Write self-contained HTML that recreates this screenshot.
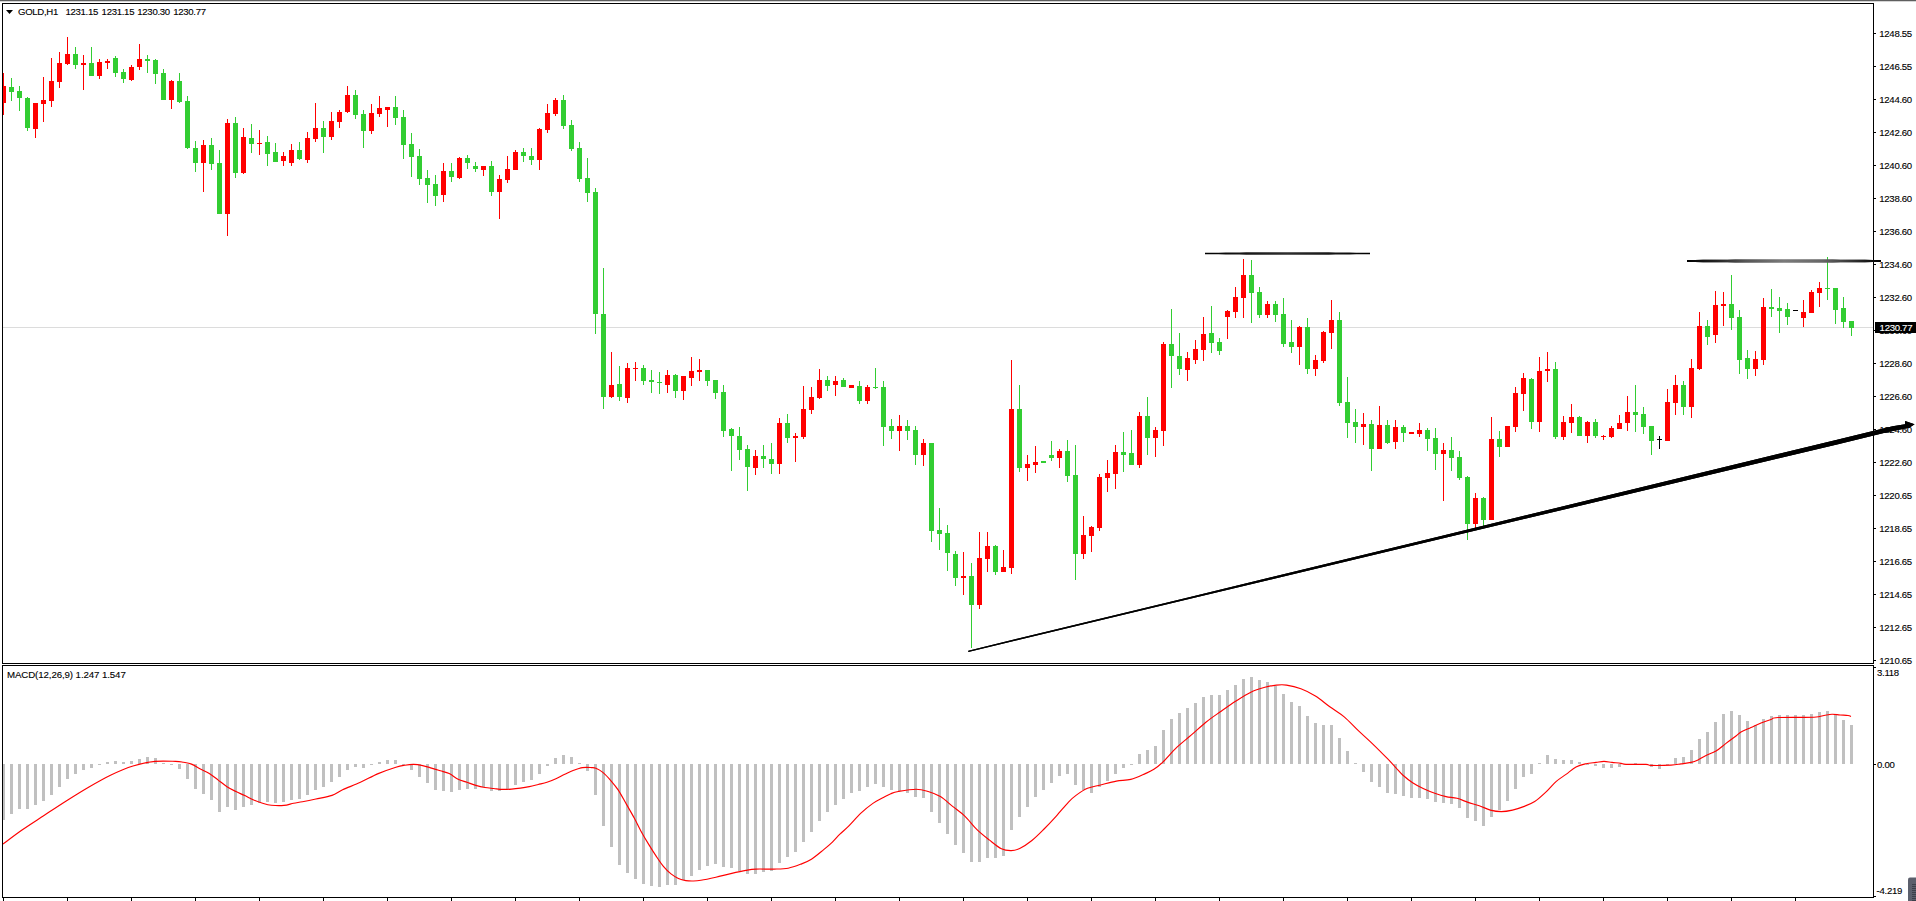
<!DOCTYPE html><html><head><meta charset="utf-8"><style>html,body{margin:0;padding:0;background:#fff;}body{width:1916px;height:901px;overflow:hidden;position:relative;}</style></head><body><svg width="1916" height="901" viewBox="0 0 1916 901" style="position:absolute;left:0;top:0">
<defs><clipPath id="cm"><rect x="3" y="4" width="1870" height="659"/></clipPath><clipPath id="cs"><rect x="3" y="666" width="1870" height="231"/></clipPath></defs>
<rect x="0" y="0" width="1916" height="1" fill="#5e5e5e"/>
<rect x="0" y="1" width="1916" height="1" fill="#d4d4d4"/>
<rect x="3" y="327" width="1870" height="1" fill="#DCDCDC"/>
<g clip-path="url(#cm)" shape-rendering="crispEdges">
<rect x="3" y="73" width="1" height="42" fill="#FF0000"/>
<rect x="1" y="86" width="5" height="17" fill="#FF0000"/>
<rect x="11" y="78" width="1" height="23" fill="#32CD32"/>
<rect x="9" y="87" width="5" height="5" fill="#32CD32"/>
<rect x="19" y="86" width="1" height="25" fill="#32CD32"/>
<rect x="17" y="91" width="5" height="7" fill="#32CD32"/>
<rect x="27" y="97" width="1" height="34" fill="#32CD32"/>
<rect x="25" y="98" width="5" height="30" fill="#32CD32"/>
<rect x="35" y="103" width="1" height="35" fill="#FF0000"/>
<rect x="33" y="103" width="5" height="26" fill="#FF0000"/>
<rect x="43" y="77" width="1" height="45" fill="#FF0000"/>
<rect x="41" y="100" width="5" height="4" fill="#FF0000"/>
<rect x="51" y="58" width="1" height="49" fill="#FF0000"/>
<rect x="49" y="81" width="5" height="20" fill="#FF0000"/>
<rect x="59" y="52" width="1" height="36" fill="#FF0000"/>
<rect x="57" y="63" width="5" height="19" fill="#FF0000"/>
<rect x="67" y="37" width="1" height="28" fill="#FF0000"/>
<rect x="65" y="54" width="5" height="10" fill="#FF0000"/>
<rect x="75" y="47" width="1" height="22" fill="#32CD32"/>
<rect x="73" y="54" width="5" height="11" fill="#32CD32"/>
<rect x="83" y="55" width="1" height="35" fill="#FF0000"/>
<rect x="81" y="63" width="5" height="2" fill="#FF0000"/>
<rect x="91" y="47" width="1" height="29" fill="#32CD32"/>
<rect x="89" y="63" width="5" height="13" fill="#32CD32"/>
<rect x="99" y="59" width="1" height="20" fill="#FF0000"/>
<rect x="97" y="62" width="5" height="14" fill="#FF0000"/>
<rect x="107" y="59" width="1" height="10" fill="#FF0000"/>
<rect x="105" y="61" width="5" height="2" fill="#FF0000"/>
<rect x="115" y="56" width="1" height="21" fill="#32CD32"/>
<rect x="113" y="58" width="5" height="15" fill="#32CD32"/>
<rect x="123" y="69" width="1" height="14" fill="#32CD32"/>
<rect x="121" y="72" width="5" height="7" fill="#32CD32"/>
<rect x="131" y="65" width="1" height="16" fill="#FF0000"/>
<rect x="129" y="67" width="5" height="13" fill="#FF0000"/>
<rect x="139" y="44" width="1" height="26" fill="#FF0000"/>
<rect x="137" y="59" width="5" height="8" fill="#FF0000"/>
<rect x="147" y="55" width="1" height="18" fill="#32CD32"/>
<rect x="145" y="59" width="5" height="2" fill="#32CD32"/>
<rect x="155" y="59" width="1" height="25" fill="#32CD32"/>
<rect x="153" y="60" width="5" height="14" fill="#32CD32"/>
<rect x="163" y="69" width="1" height="31" fill="#32CD32"/>
<rect x="161" y="73" width="5" height="27" fill="#32CD32"/>
<rect x="171" y="80" width="1" height="29" fill="#FF0000"/>
<rect x="169" y="81" width="5" height="19" fill="#FF0000"/>
<rect x="179" y="73" width="1" height="30" fill="#32CD32"/>
<rect x="177" y="81" width="5" height="21" fill="#32CD32"/>
<rect x="187" y="96" width="1" height="53" fill="#32CD32"/>
<rect x="185" y="101" width="5" height="47" fill="#32CD32"/>
<rect x="195" y="141" width="1" height="31" fill="#32CD32"/>
<rect x="193" y="148" width="5" height="15" fill="#32CD32"/>
<rect x="203" y="140" width="1" height="52" fill="#FF0000"/>
<rect x="201" y="145" width="5" height="18" fill="#FF0000"/>
<rect x="211" y="138" width="1" height="32" fill="#32CD32"/>
<rect x="209" y="145" width="5" height="19" fill="#32CD32"/>
<rect x="219" y="150" width="1" height="64" fill="#32CD32"/>
<rect x="217" y="163" width="5" height="51" fill="#32CD32"/>
<rect x="227" y="119" width="1" height="117" fill="#FF0000"/>
<rect x="225" y="123" width="5" height="91" fill="#FF0000"/>
<rect x="235" y="117" width="1" height="61" fill="#32CD32"/>
<rect x="233" y="123" width="5" height="50" fill="#32CD32"/>
<rect x="243" y="128" width="1" height="46" fill="#FF0000"/>
<rect x="241" y="137" width="5" height="36" fill="#FF0000"/>
<rect x="251" y="124" width="1" height="29" fill="#32CD32"/>
<rect x="249" y="138" width="5" height="6" fill="#32CD32"/>
<rect x="259" y="130" width="1" height="25" fill="#FF0000"/>
<rect x="257" y="143" width="5" height="1" fill="#FF0000"/>
<rect x="267" y="136" width="1" height="30" fill="#32CD32"/>
<rect x="265" y="142" width="5" height="12" fill="#32CD32"/>
<rect x="275" y="143" width="1" height="19" fill="#32CD32"/>
<rect x="273" y="152" width="5" height="10" fill="#32CD32"/>
<rect x="283" y="152" width="1" height="14" fill="#FF0000"/>
<rect x="281" y="156" width="5" height="5" fill="#FF0000"/>
<rect x="291" y="144" width="1" height="22" fill="#FF0000"/>
<rect x="289" y="150" width="5" height="13" fill="#FF0000"/>
<rect x="299" y="142" width="1" height="18" fill="#32CD32"/>
<rect x="297" y="150" width="5" height="9" fill="#32CD32"/>
<rect x="307" y="132" width="1" height="31" fill="#FF0000"/>
<rect x="305" y="138" width="5" height="22" fill="#FF0000"/>
<rect x="315" y="103" width="1" height="39" fill="#FF0000"/>
<rect x="313" y="128" width="5" height="11" fill="#FF0000"/>
<rect x="323" y="121" width="1" height="32" fill="#32CD32"/>
<rect x="321" y="128" width="5" height="9" fill="#32CD32"/>
<rect x="331" y="112" width="1" height="28" fill="#FF0000"/>
<rect x="329" y="121" width="5" height="16" fill="#FF0000"/>
<rect x="339" y="110" width="1" height="18" fill="#FF0000"/>
<rect x="337" y="112" width="5" height="10" fill="#FF0000"/>
<rect x="347" y="86" width="1" height="27" fill="#FF0000"/>
<rect x="345" y="95" width="5" height="17" fill="#FF0000"/>
<rect x="355" y="90" width="1" height="29" fill="#32CD32"/>
<rect x="353" y="95" width="5" height="20" fill="#32CD32"/>
<rect x="363" y="110" width="1" height="38" fill="#32CD32"/>
<rect x="361" y="114" width="5" height="17" fill="#32CD32"/>
<rect x="371" y="104" width="1" height="30" fill="#FF0000"/>
<rect x="369" y="113" width="5" height="18" fill="#FF0000"/>
<rect x="379" y="96" width="1" height="21" fill="#FF0000"/>
<rect x="377" y="108" width="5" height="6" fill="#FF0000"/>
<rect x="387" y="107" width="1" height="20" fill="#FF0000"/>
<rect x="385" y="107" width="5" height="3" fill="#FF0000"/>
<rect x="395" y="96" width="1" height="29" fill="#32CD32"/>
<rect x="393" y="107" width="5" height="11" fill="#32CD32"/>
<rect x="403" y="110" width="1" height="49" fill="#32CD32"/>
<rect x="401" y="117" width="5" height="28" fill="#32CD32"/>
<rect x="411" y="133" width="1" height="44" fill="#32CD32"/>
<rect x="409" y="144" width="5" height="13" fill="#32CD32"/>
<rect x="419" y="149" width="1" height="36" fill="#32CD32"/>
<rect x="417" y="156" width="5" height="23" fill="#32CD32"/>
<rect x="427" y="170" width="1" height="33" fill="#32CD32"/>
<rect x="425" y="178" width="5" height="7" fill="#32CD32"/>
<rect x="435" y="175" width="1" height="31" fill="#32CD32"/>
<rect x="433" y="184" width="5" height="12" fill="#32CD32"/>
<rect x="443" y="163" width="1" height="39" fill="#FF0000"/>
<rect x="441" y="171" width="5" height="24" fill="#FF0000"/>
<rect x="451" y="163" width="1" height="19" fill="#32CD32"/>
<rect x="449" y="171" width="5" height="6" fill="#32CD32"/>
<rect x="459" y="157" width="1" height="22" fill="#FF0000"/>
<rect x="457" y="158" width="5" height="20" fill="#FF0000"/>
<rect x="467" y="155" width="1" height="14" fill="#32CD32"/>
<rect x="465" y="158" width="5" height="5" fill="#32CD32"/>
<rect x="475" y="162" width="1" height="10" fill="#32CD32"/>
<rect x="473" y="166" width="5" height="3" fill="#32CD32"/>
<rect x="483" y="166" width="1" height="10" fill="#FF0000"/>
<rect x="481" y="166" width="5" height="4" fill="#FF0000"/>
<rect x="491" y="161" width="1" height="35" fill="#32CD32"/>
<rect x="489" y="166" width="5" height="26" fill="#32CD32"/>
<rect x="499" y="175" width="1" height="44" fill="#FF0000"/>
<rect x="497" y="179" width="5" height="13" fill="#FF0000"/>
<rect x="507" y="156" width="1" height="27" fill="#FF0000"/>
<rect x="505" y="169" width="5" height="11" fill="#FF0000"/>
<rect x="515" y="150" width="1" height="20" fill="#FF0000"/>
<rect x="513" y="152" width="5" height="18" fill="#FF0000"/>
<rect x="523" y="148" width="1" height="14" fill="#32CD32"/>
<rect x="521" y="152" width="5" height="4" fill="#32CD32"/>
<rect x="531" y="148" width="1" height="17" fill="#32CD32"/>
<rect x="529" y="156" width="5" height="4" fill="#32CD32"/>
<rect x="539" y="128" width="1" height="42" fill="#FF0000"/>
<rect x="537" y="129" width="5" height="31" fill="#FF0000"/>
<rect x="547" y="104" width="1" height="29" fill="#FF0000"/>
<rect x="545" y="113" width="5" height="17" fill="#FF0000"/>
<rect x="555" y="98" width="1" height="18" fill="#FF0000"/>
<rect x="553" y="100" width="5" height="14" fill="#FF0000"/>
<rect x="563" y="95" width="1" height="34" fill="#32CD32"/>
<rect x="561" y="100" width="5" height="26" fill="#32CD32"/>
<rect x="571" y="120" width="1" height="31" fill="#32CD32"/>
<rect x="569" y="125" width="5" height="24" fill="#32CD32"/>
<rect x="579" y="142" width="1" height="40" fill="#32CD32"/>
<rect x="577" y="148" width="5" height="31" fill="#32CD32"/>
<rect x="587" y="158" width="1" height="44" fill="#32CD32"/>
<rect x="585" y="178" width="5" height="15" fill="#32CD32"/>
<rect x="595" y="188" width="1" height="146" fill="#32CD32"/>
<rect x="593" y="192" width="5" height="122" fill="#32CD32"/>
<rect x="603" y="268" width="1" height="141" fill="#32CD32"/>
<rect x="601" y="314" width="5" height="83" fill="#32CD32"/>
<rect x="611" y="352" width="1" height="46" fill="#FF0000"/>
<rect x="609" y="385" width="5" height="12" fill="#FF0000"/>
<rect x="619" y="366" width="1" height="35" fill="#32CD32"/>
<rect x="617" y="384" width="5" height="13" fill="#32CD32"/>
<rect x="627" y="363" width="1" height="40" fill="#FF0000"/>
<rect x="625" y="368" width="5" height="30" fill="#FF0000"/>
<rect x="635" y="362" width="1" height="19" fill="#FF0000"/>
<rect x="633" y="368" width="5" height="1" fill="#FF0000"/>
<rect x="643" y="365" width="1" height="20" fill="#32CD32"/>
<rect x="641" y="368" width="5" height="13" fill="#32CD32"/>
<rect x="651" y="370" width="1" height="23" fill="#32CD32"/>
<rect x="649" y="380" width="5" height="2" fill="#32CD32"/>
<rect x="659" y="372" width="1" height="22" fill="#32CD32"/>
<rect x="657" y="382" width="5" height="1" fill="#32CD32"/>
<rect x="667" y="370" width="1" height="23" fill="#FF0000"/>
<rect x="665" y="375" width="5" height="10" fill="#FF0000"/>
<rect x="675" y="374" width="1" height="24" fill="#32CD32"/>
<rect x="673" y="375" width="5" height="16" fill="#32CD32"/>
<rect x="683" y="376" width="1" height="24" fill="#FF0000"/>
<rect x="681" y="376" width="5" height="15" fill="#FF0000"/>
<rect x="691" y="357" width="1" height="29" fill="#FF0000"/>
<rect x="689" y="371" width="5" height="7" fill="#FF0000"/>
<rect x="699" y="359" width="1" height="22" fill="#FF0000"/>
<rect x="697" y="370" width="5" height="2" fill="#FF0000"/>
<rect x="707" y="370" width="1" height="16" fill="#32CD32"/>
<rect x="705" y="370" width="5" height="11" fill="#32CD32"/>
<rect x="715" y="380" width="1" height="19" fill="#32CD32"/>
<rect x="713" y="380" width="5" height="13" fill="#32CD32"/>
<rect x="723" y="385" width="1" height="52" fill="#32CD32"/>
<rect x="721" y="392" width="5" height="39" fill="#32CD32"/>
<rect x="731" y="428" width="1" height="43" fill="#32CD32"/>
<rect x="729" y="429" width="5" height="7" fill="#32CD32"/>
<rect x="739" y="427" width="1" height="33" fill="#32CD32"/>
<rect x="737" y="436" width="5" height="14" fill="#32CD32"/>
<rect x="747" y="445" width="1" height="46" fill="#32CD32"/>
<rect x="745" y="449" width="5" height="18" fill="#32CD32"/>
<rect x="755" y="450" width="1" height="25" fill="#FF0000"/>
<rect x="753" y="456" width="5" height="12" fill="#FF0000"/>
<rect x="763" y="445" width="1" height="23" fill="#32CD32"/>
<rect x="761" y="456" width="5" height="3" fill="#32CD32"/>
<rect x="771" y="443" width="1" height="31" fill="#32CD32"/>
<rect x="769" y="459" width="5" height="5" fill="#32CD32"/>
<rect x="779" y="418" width="1" height="56" fill="#FF0000"/>
<rect x="777" y="423" width="5" height="41" fill="#FF0000"/>
<rect x="787" y="414" width="1" height="29" fill="#32CD32"/>
<rect x="785" y="423" width="5" height="15" fill="#32CD32"/>
<rect x="795" y="433" width="1" height="29" fill="#FF0000"/>
<rect x="793" y="436" width="5" height="2" fill="#FF0000"/>
<rect x="803" y="386" width="1" height="53" fill="#FF0000"/>
<rect x="801" y="409" width="5" height="28" fill="#FF0000"/>
<rect x="811" y="387" width="1" height="27" fill="#FF0000"/>
<rect x="809" y="397" width="5" height="13" fill="#FF0000"/>
<rect x="819" y="369" width="1" height="30" fill="#FF0000"/>
<rect x="817" y="380" width="5" height="18" fill="#FF0000"/>
<rect x="827" y="376" width="1" height="15" fill="#32CD32"/>
<rect x="825" y="380" width="5" height="6" fill="#32CD32"/>
<rect x="835" y="376" width="1" height="20" fill="#FF0000"/>
<rect x="833" y="381" width="5" height="4" fill="#FF0000"/>
<rect x="843" y="378" width="1" height="9" fill="#32CD32"/>
<rect x="841" y="380" width="5" height="7" fill="#32CD32"/>
<rect x="851" y="385" width="1" height="3" fill="#FF0000"/>
<rect x="849" y="385" width="5" height="3" fill="#FF0000"/>
<rect x="859" y="381" width="1" height="23" fill="#32CD32"/>
<rect x="857" y="386" width="5" height="15" fill="#32CD32"/>
<rect x="867" y="385" width="1" height="19" fill="#FF0000"/>
<rect x="865" y="387" width="5" height="14" fill="#FF0000"/>
<rect x="875" y="368" width="1" height="21" fill="#32CD32"/>
<rect x="873" y="387" width="5" height="1" fill="#32CD32"/>
<rect x="883" y="381" width="1" height="65" fill="#32CD32"/>
<rect x="881" y="387" width="5" height="40" fill="#32CD32"/>
<rect x="891" y="419" width="1" height="20" fill="#32CD32"/>
<rect x="889" y="426" width="5" height="5" fill="#32CD32"/>
<rect x="899" y="415" width="1" height="36" fill="#FF0000"/>
<rect x="897" y="426" width="5" height="5" fill="#FF0000"/>
<rect x="907" y="420" width="1" height="20" fill="#32CD32"/>
<rect x="905" y="426" width="5" height="5" fill="#32CD32"/>
<rect x="915" y="426" width="1" height="39" fill="#32CD32"/>
<rect x="913" y="430" width="5" height="25" fill="#32CD32"/>
<rect x="923" y="439" width="1" height="27" fill="#FF0000"/>
<rect x="921" y="443" width="5" height="12" fill="#FF0000"/>
<rect x="931" y="443" width="1" height="99" fill="#32CD32"/>
<rect x="929" y="443" width="5" height="88" fill="#32CD32"/>
<rect x="939" y="508" width="1" height="42" fill="#32CD32"/>
<rect x="937" y="530" width="5" height="4" fill="#32CD32"/>
<rect x="947" y="525" width="1" height="46" fill="#32CD32"/>
<rect x="945" y="533" width="5" height="20" fill="#32CD32"/>
<rect x="955" y="551" width="1" height="35" fill="#32CD32"/>
<rect x="953" y="554" width="5" height="24" fill="#32CD32"/>
<rect x="963" y="552" width="1" height="43" fill="#FF0000"/>
<rect x="961" y="576" width="5" height="2" fill="#FF0000"/>
<rect x="971" y="563" width="1" height="85" fill="#32CD32"/>
<rect x="969" y="576" width="5" height="29" fill="#32CD32"/>
<rect x="979" y="532" width="1" height="77" fill="#FF0000"/>
<rect x="977" y="558" width="5" height="47" fill="#FF0000"/>
<rect x="987" y="532" width="1" height="40" fill="#FF0000"/>
<rect x="985" y="546" width="5" height="13" fill="#FF0000"/>
<rect x="995" y="545" width="1" height="30" fill="#32CD32"/>
<rect x="993" y="546" width="5" height="26" fill="#32CD32"/>
<rect x="1003" y="550" width="1" height="22" fill="#FF0000"/>
<rect x="1001" y="567" width="5" height="5" fill="#FF0000"/>
<rect x="1011" y="360" width="1" height="214" fill="#FF0000"/>
<rect x="1009" y="409" width="5" height="159" fill="#FF0000"/>
<rect x="1019" y="385" width="1" height="87" fill="#32CD32"/>
<rect x="1017" y="409" width="5" height="59" fill="#32CD32"/>
<rect x="1027" y="455" width="1" height="26" fill="#FF0000"/>
<rect x="1025" y="464" width="5" height="4" fill="#FF0000"/>
<rect x="1035" y="446" width="1" height="27" fill="#FF0000"/>
<rect x="1033" y="462" width="5" height="3" fill="#FF0000"/>
<rect x="1043" y="461" width="1" height="2" fill="#32CD32"/>
<rect x="1041" y="461" width="5" height="2" fill="#32CD32"/>
<rect x="1051" y="441" width="1" height="20" fill="#32CD32"/>
<rect x="1049" y="455" width="5" height="3" fill="#32CD32"/>
<rect x="1059" y="449" width="1" height="19" fill="#FF0000"/>
<rect x="1057" y="451" width="5" height="7" fill="#FF0000"/>
<rect x="1067" y="440" width="1" height="42" fill="#32CD32"/>
<rect x="1065" y="451" width="5" height="25" fill="#32CD32"/>
<rect x="1075" y="445" width="1" height="135" fill="#32CD32"/>
<rect x="1073" y="475" width="5" height="79" fill="#32CD32"/>
<rect x="1083" y="516" width="1" height="43" fill="#FF0000"/>
<rect x="1081" y="535" width="5" height="19" fill="#FF0000"/>
<rect x="1091" y="526" width="1" height="26" fill="#FF0000"/>
<rect x="1089" y="527" width="5" height="9" fill="#FF0000"/>
<rect x="1099" y="474" width="1" height="57" fill="#FF0000"/>
<rect x="1097" y="477" width="5" height="51" fill="#FF0000"/>
<rect x="1107" y="460" width="1" height="32" fill="#FF0000"/>
<rect x="1105" y="473" width="5" height="5" fill="#FF0000"/>
<rect x="1115" y="445" width="1" height="44" fill="#FF0000"/>
<rect x="1113" y="452" width="5" height="22" fill="#FF0000"/>
<rect x="1123" y="432" width="1" height="40" fill="#32CD32"/>
<rect x="1121" y="452" width="5" height="3" fill="#32CD32"/>
<rect x="1131" y="430" width="1" height="35" fill="#32CD32"/>
<rect x="1129" y="453" width="5" height="12" fill="#32CD32"/>
<rect x="1139" y="412" width="1" height="56" fill="#FF0000"/>
<rect x="1137" y="416" width="5" height="49" fill="#FF0000"/>
<rect x="1147" y="397" width="1" height="58" fill="#32CD32"/>
<rect x="1145" y="416" width="5" height="22" fill="#32CD32"/>
<rect x="1155" y="427" width="1" height="30" fill="#FF0000"/>
<rect x="1153" y="430" width="5" height="8" fill="#FF0000"/>
<rect x="1163" y="342" width="1" height="104" fill="#FF0000"/>
<rect x="1161" y="344" width="5" height="87" fill="#FF0000"/>
<rect x="1171" y="309" width="1" height="79" fill="#32CD32"/>
<rect x="1169" y="344" width="5" height="12" fill="#32CD32"/>
<rect x="1179" y="333" width="1" height="42" fill="#32CD32"/>
<rect x="1177" y="356" width="5" height="13" fill="#32CD32"/>
<rect x="1187" y="352" width="1" height="29" fill="#FF0000"/>
<rect x="1185" y="358" width="5" height="12" fill="#FF0000"/>
<rect x="1195" y="340" width="1" height="24" fill="#FF0000"/>
<rect x="1193" y="349" width="5" height="11" fill="#FF0000"/>
<rect x="1203" y="317" width="1" height="44" fill="#FF0000"/>
<rect x="1201" y="334" width="5" height="16" fill="#FF0000"/>
<rect x="1211" y="306" width="1" height="47" fill="#32CD32"/>
<rect x="1209" y="333" width="5" height="10" fill="#32CD32"/>
<rect x="1219" y="338" width="1" height="17" fill="#32CD32"/>
<rect x="1217" y="342" width="5" height="9" fill="#32CD32"/>
<rect x="1227" y="310" width="1" height="29" fill="#FF0000"/>
<rect x="1225" y="311" width="5" height="6" fill="#FF0000"/>
<rect x="1235" y="287" width="1" height="31" fill="#FF0000"/>
<rect x="1233" y="297" width="5" height="15" fill="#FF0000"/>
<rect x="1243" y="259" width="1" height="59" fill="#FF0000"/>
<rect x="1241" y="275" width="5" height="23" fill="#FF0000"/>
<rect x="1251" y="260" width="1" height="63" fill="#32CD32"/>
<rect x="1249" y="275" width="5" height="18" fill="#32CD32"/>
<rect x="1259" y="287" width="1" height="31" fill="#32CD32"/>
<rect x="1257" y="292" width="5" height="23" fill="#32CD32"/>
<rect x="1267" y="301" width="1" height="17" fill="#FF0000"/>
<rect x="1265" y="304" width="5" height="11" fill="#FF0000"/>
<rect x="1275" y="301" width="1" height="21" fill="#32CD32"/>
<rect x="1273" y="304" width="5" height="11" fill="#32CD32"/>
<rect x="1283" y="298" width="1" height="49" fill="#32CD32"/>
<rect x="1281" y="314" width="5" height="30" fill="#32CD32"/>
<rect x="1291" y="320" width="1" height="33" fill="#32CD32"/>
<rect x="1289" y="342" width="5" height="5" fill="#32CD32"/>
<rect x="1299" y="326" width="1" height="39" fill="#FF0000"/>
<rect x="1297" y="327" width="5" height="20" fill="#FF0000"/>
<rect x="1307" y="318" width="1" height="56" fill="#32CD32"/>
<rect x="1305" y="327" width="5" height="42" fill="#32CD32"/>
<rect x="1315" y="355" width="1" height="21" fill="#FF0000"/>
<rect x="1313" y="360" width="5" height="9" fill="#FF0000"/>
<rect x="1323" y="331" width="1" height="32" fill="#FF0000"/>
<rect x="1321" y="332" width="5" height="29" fill="#FF0000"/>
<rect x="1331" y="300" width="1" height="49" fill="#FF0000"/>
<rect x="1329" y="320" width="5" height="13" fill="#FF0000"/>
<rect x="1339" y="312" width="1" height="94" fill="#32CD32"/>
<rect x="1337" y="320" width="5" height="83" fill="#32CD32"/>
<rect x="1347" y="377" width="1" height="61" fill="#32CD32"/>
<rect x="1345" y="402" width="5" height="21" fill="#32CD32"/>
<rect x="1355" y="409" width="1" height="34" fill="#32CD32"/>
<rect x="1353" y="422" width="5" height="5" fill="#32CD32"/>
<rect x="1363" y="413" width="1" height="32" fill="#FF0000"/>
<rect x="1361" y="424" width="5" height="3" fill="#FF0000"/>
<rect x="1371" y="420" width="1" height="51" fill="#32CD32"/>
<rect x="1369" y="424" width="5" height="25" fill="#32CD32"/>
<rect x="1379" y="406" width="1" height="43" fill="#FF0000"/>
<rect x="1377" y="425" width="5" height="24" fill="#FF0000"/>
<rect x="1387" y="420" width="1" height="24" fill="#32CD32"/>
<rect x="1385" y="425" width="5" height="18" fill="#32CD32"/>
<rect x="1395" y="420" width="1" height="29" fill="#FF0000"/>
<rect x="1393" y="427" width="5" height="15" fill="#FF0000"/>
<rect x="1403" y="425" width="1" height="17" fill="#32CD32"/>
<rect x="1401" y="427" width="5" height="6" fill="#32CD32"/>
<rect x="1411" y="432" width="1" height="2" fill="#FF0000"/>
<rect x="1409" y="432" width="5" height="2" fill="#FF0000"/>
<rect x="1419" y="423" width="1" height="14" fill="#FF0000"/>
<rect x="1417" y="430" width="5" height="4" fill="#FF0000"/>
<rect x="1427" y="428" width="1" height="23" fill="#32CD32"/>
<rect x="1425" y="430" width="5" height="9" fill="#32CD32"/>
<rect x="1435" y="428" width="1" height="42" fill="#32CD32"/>
<rect x="1433" y="438" width="5" height="16" fill="#32CD32"/>
<rect x="1443" y="443" width="1" height="58" fill="#FF0000"/>
<rect x="1441" y="450" width="5" height="4" fill="#FF0000"/>
<rect x="1451" y="437" width="1" height="34" fill="#32CD32"/>
<rect x="1449" y="450" width="5" height="8" fill="#32CD32"/>
<rect x="1459" y="451" width="1" height="29" fill="#32CD32"/>
<rect x="1457" y="457" width="5" height="21" fill="#32CD32"/>
<rect x="1467" y="476" width="1" height="64" fill="#32CD32"/>
<rect x="1465" y="477" width="5" height="47" fill="#32CD32"/>
<rect x="1475" y="493" width="1" height="35" fill="#FF0000"/>
<rect x="1473" y="498" width="5" height="26" fill="#FF0000"/>
<rect x="1483" y="497" width="1" height="29" fill="#32CD32"/>
<rect x="1481" y="498" width="5" height="22" fill="#32CD32"/>
<rect x="1491" y="417" width="1" height="103" fill="#FF0000"/>
<rect x="1489" y="439" width="5" height="81" fill="#FF0000"/>
<rect x="1499" y="431" width="1" height="26" fill="#32CD32"/>
<rect x="1497" y="439" width="5" height="8" fill="#32CD32"/>
<rect x="1507" y="426" width="1" height="21" fill="#FF0000"/>
<rect x="1505" y="426" width="5" height="21" fill="#FF0000"/>
<rect x="1515" y="387" width="1" height="45" fill="#FF0000"/>
<rect x="1513" y="393" width="5" height="34" fill="#FF0000"/>
<rect x="1523" y="373" width="1" height="38" fill="#FF0000"/>
<rect x="1521" y="378" width="5" height="16" fill="#FF0000"/>
<rect x="1531" y="378" width="1" height="51" fill="#32CD32"/>
<rect x="1529" y="379" width="5" height="43" fill="#32CD32"/>
<rect x="1539" y="357" width="1" height="75" fill="#FF0000"/>
<rect x="1537" y="371" width="5" height="51" fill="#FF0000"/>
<rect x="1547" y="352" width="1" height="30" fill="#FF0000"/>
<rect x="1545" y="369" width="5" height="2" fill="#FF0000"/>
<rect x="1555" y="362" width="1" height="77" fill="#32CD32"/>
<rect x="1553" y="369" width="5" height="68" fill="#32CD32"/>
<rect x="1563" y="416" width="1" height="24" fill="#FF0000"/>
<rect x="1561" y="422" width="5" height="15" fill="#FF0000"/>
<rect x="1571" y="404" width="1" height="29" fill="#FF0000"/>
<rect x="1569" y="417" width="5" height="6" fill="#FF0000"/>
<rect x="1579" y="416" width="1" height="20" fill="#32CD32"/>
<rect x="1577" y="417" width="5" height="19" fill="#32CD32"/>
<rect x="1587" y="421" width="1" height="22" fill="#FF0000"/>
<rect x="1585" y="422" width="5" height="14" fill="#FF0000"/>
<rect x="1595" y="419" width="1" height="19" fill="#32CD32"/>
<rect x="1593" y="422" width="5" height="14" fill="#32CD32"/>
<rect x="1603" y="435" width="1" height="5" fill="#FF0000"/>
<rect x="1601" y="436" width="5" height="1" fill="#FF0000"/>
<rect x="1611" y="426" width="1" height="12" fill="#FF0000"/>
<rect x="1609" y="428" width="5" height="9" fill="#FF0000"/>
<rect x="1619" y="415" width="1" height="14" fill="#FF0000"/>
<rect x="1617" y="423" width="5" height="6" fill="#FF0000"/>
<rect x="1627" y="396" width="1" height="35" fill="#FF0000"/>
<rect x="1625" y="412" width="5" height="11" fill="#FF0000"/>
<rect x="1635" y="385" width="1" height="47" fill="#32CD32"/>
<rect x="1633" y="412" width="5" height="3" fill="#32CD32"/>
<rect x="1643" y="407" width="1" height="27" fill="#32CD32"/>
<rect x="1641" y="414" width="5" height="13" fill="#32CD32"/>
<rect x="1651" y="426" width="1" height="29" fill="#32CD32"/>
<rect x="1649" y="426" width="5" height="15" fill="#32CD32"/>
<rect x="1659" y="436" width="1" height="13" fill="#000000"/>
<rect x="1657" y="439" width="5" height="1" fill="#000000"/>
<rect x="1667" y="389" width="1" height="52" fill="#FF0000"/>
<rect x="1665" y="402" width="5" height="39" fill="#FF0000"/>
<rect x="1675" y="375" width="1" height="40" fill="#FF0000"/>
<rect x="1673" y="385" width="5" height="18" fill="#FF0000"/>
<rect x="1683" y="381" width="1" height="34" fill="#32CD32"/>
<rect x="1681" y="385" width="5" height="22" fill="#32CD32"/>
<rect x="1691" y="359" width="1" height="59" fill="#FF0000"/>
<rect x="1689" y="368" width="5" height="39" fill="#FF0000"/>
<rect x="1699" y="312" width="1" height="58" fill="#FF0000"/>
<rect x="1697" y="326" width="5" height="43" fill="#FF0000"/>
<rect x="1707" y="320" width="1" height="25" fill="#32CD32"/>
<rect x="1705" y="326" width="5" height="11" fill="#32CD32"/>
<rect x="1715" y="291" width="1" height="52" fill="#FF0000"/>
<rect x="1713" y="305" width="5" height="30" fill="#FF0000"/>
<rect x="1723" y="292" width="1" height="34" fill="#FF0000"/>
<rect x="1721" y="304" width="5" height="2" fill="#FF0000"/>
<rect x="1731" y="275" width="1" height="55" fill="#32CD32"/>
<rect x="1729" y="304" width="5" height="14" fill="#32CD32"/>
<rect x="1739" y="310" width="1" height="64" fill="#32CD32"/>
<rect x="1737" y="317" width="5" height="43" fill="#32CD32"/>
<rect x="1747" y="350" width="1" height="29" fill="#32CD32"/>
<rect x="1745" y="358" width="5" height="11" fill="#32CD32"/>
<rect x="1755" y="351" width="1" height="25" fill="#FF0000"/>
<rect x="1753" y="359" width="5" height="10" fill="#FF0000"/>
<rect x="1763" y="298" width="1" height="67" fill="#FF0000"/>
<rect x="1761" y="307" width="5" height="53" fill="#FF0000"/>
<rect x="1771" y="289" width="1" height="28" fill="#32CD32"/>
<rect x="1769" y="307" width="5" height="2" fill="#32CD32"/>
<rect x="1779" y="297" width="1" height="36" fill="#32CD32"/>
<rect x="1777" y="308" width="5" height="3" fill="#32CD32"/>
<rect x="1787" y="303" width="1" height="22" fill="#32CD32"/>
<rect x="1785" y="309" width="5" height="8" fill="#32CD32"/>
<rect x="1795" y="310" width="1" height="1" fill="#000000"/>
<rect x="1793" y="310" width="5" height="1" fill="#000000"/>
<rect x="1803" y="300" width="1" height="27" fill="#FF0000"/>
<rect x="1801" y="312" width="5" height="6" fill="#FF0000"/>
<rect x="1811" y="290" width="1" height="23" fill="#FF0000"/>
<rect x="1809" y="292" width="5" height="21" fill="#FF0000"/>
<rect x="1819" y="282" width="1" height="25" fill="#FF0000"/>
<rect x="1817" y="288" width="5" height="5" fill="#FF0000"/>
<rect x="1827" y="257" width="1" height="43" fill="#32CD32"/>
<rect x="1825" y="288" width="5" height="1" fill="#32CD32"/>
<rect x="1835" y="288" width="1" height="36" fill="#32CD32"/>
<rect x="1833" y="288" width="5" height="22" fill="#32CD32"/>
<rect x="1843" y="297" width="1" height="31" fill="#32CD32"/>
<rect x="1841" y="308" width="5" height="14" fill="#32CD32"/>
<rect x="1851" y="321" width="1" height="15" fill="#32CD32"/>
<rect x="1849" y="321" width="5" height="7" fill="#32CD32"/>
</g>
<g clip-path="url(#cs)" shape-rendering="crispEdges" fill="#C0C0C0">
<rect x="2" y="764" width="3" height="56"/>
<rect x="10" y="764" width="3" height="50"/>
<rect x="18" y="764" width="3" height="45"/>
<rect x="26" y="764" width="3" height="45"/>
<rect x="34" y="764" width="3" height="41"/>
<rect x="42" y="764" width="3" height="37"/>
<rect x="50" y="764" width="3" height="31"/>
<rect x="58" y="764" width="3" height="23"/>
<rect x="66" y="764" width="3" height="15"/>
<rect x="74" y="764" width="3" height="10"/>
<rect x="82" y="764" width="3" height="6"/>
<rect x="90" y="764" width="3" height="4"/>
<rect x="98" y="764" width="3" height="1"/>
<rect x="106" y="762" width="3" height="2"/>
<rect x="114" y="761" width="3" height="3"/>
<rect x="122" y="762" width="3" height="2"/>
<rect x="130" y="761" width="3" height="3"/>
<rect x="138" y="759" width="3" height="5"/>
<rect x="146" y="757" width="3" height="7"/>
<rect x="154" y="758" width="3" height="6"/>
<rect x="162" y="763" width="3" height="1"/>
<rect x="170" y="764" width="3" height="1"/>
<rect x="178" y="764" width="3" height="5"/>
<rect x="186" y="764" width="3" height="15"/>
<rect x="194" y="764" width="3" height="25"/>
<rect x="202" y="764" width="3" height="30"/>
<rect x="210" y="764" width="3" height="36"/>
<rect x="218" y="764" width="3" height="48"/>
<rect x="226" y="764" width="3" height="43"/>
<rect x="234" y="764" width="3" height="46"/>
<rect x="242" y="764" width="3" height="43"/>
<rect x="250" y="764" width="3" height="41"/>
<rect x="258" y="764" width="3" height="39"/>
<rect x="266" y="764" width="3" height="38"/>
<rect x="274" y="764" width="3" height="39"/>
<rect x="282" y="764" width="3" height="38"/>
<rect x="290" y="764" width="3" height="36"/>
<rect x="298" y="764" width="3" height="35"/>
<rect x="306" y="764" width="3" height="31"/>
<rect x="314" y="764" width="3" height="26"/>
<rect x="322" y="764" width="3" height="23"/>
<rect x="330" y="764" width="3" height="18"/>
<rect x="338" y="764" width="3" height="13"/>
<rect x="346" y="764" width="3" height="6"/>
<rect x="354" y="764" width="3" height="3"/>
<rect x="362" y="764" width="3" height="4"/>
<rect x="370" y="764" width="3" height="1"/>
<rect x="378" y="762" width="3" height="2"/>
<rect x="386" y="760" width="3" height="4"/>
<rect x="394" y="760" width="3" height="4"/>
<rect x="402" y="764" width="3" height="1"/>
<rect x="410" y="764" width="3" height="6"/>
<rect x="418" y="764" width="3" height="13"/>
<rect x="426" y="764" width="3" height="19"/>
<rect x="434" y="764" width="3" height="26"/>
<rect x="442" y="764" width="3" height="27"/>
<rect x="450" y="764" width="3" height="28"/>
<rect x="458" y="764" width="3" height="26"/>
<rect x="466" y="764" width="3" height="25"/>
<rect x="474" y="764" width="3" height="25"/>
<rect x="482" y="764" width="3" height="23"/>
<rect x="490" y="764" width="3" height="27"/>
<rect x="498" y="764" width="3" height="27"/>
<rect x="506" y="764" width="3" height="25"/>
<rect x="514" y="764" width="3" height="21"/>
<rect x="522" y="764" width="3" height="18"/>
<rect x="530" y="764" width="3" height="16"/>
<rect x="538" y="764" width="3" height="10"/>
<rect x="546" y="764" width="3" height="2"/>
<rect x="554" y="758" width="3" height="6"/>
<rect x="562" y="755" width="3" height="9"/>
<rect x="570" y="757" width="3" height="7"/>
<rect x="578" y="763" width="3" height="1"/>
<rect x="586" y="764" width="3" height="7"/>
<rect x="594" y="764" width="3" height="31"/>
<rect x="602" y="764" width="3" height="62"/>
<rect x="610" y="764" width="3" height="83"/>
<rect x="618" y="764" width="3" height="101"/>
<rect x="626" y="764" width="3" height="109"/>
<rect x="634" y="764" width="3" height="115"/>
<rect x="642" y="764" width="3" height="120"/>
<rect x="650" y="764" width="3" height="122"/>
<rect x="658" y="764" width="3" height="123"/>
<rect x="666" y="764" width="3" height="121"/>
<rect x="674" y="764" width="3" height="121"/>
<rect x="682" y="764" width="3" height="116"/>
<rect x="690" y="764" width="3" height="112"/>
<rect x="698" y="764" width="3" height="106"/>
<rect x="706" y="764" width="3" height="102"/>
<rect x="714" y="764" width="3" height="100"/>
<rect x="722" y="764" width="3" height="103"/>
<rect x="730" y="764" width="3" height="104"/>
<rect x="738" y="764" width="3" height="107"/>
<rect x="746" y="764" width="3" height="110"/>
<rect x="754" y="764" width="3" height="110"/>
<rect x="762" y="764" width="3" height="108"/>
<rect x="770" y="764" width="3" height="107"/>
<rect x="778" y="764" width="3" height="99"/>
<rect x="786" y="764" width="3" height="93"/>
<rect x="794" y="764" width="3" height="88"/>
<rect x="802" y="764" width="3" height="78"/>
<rect x="810" y="764" width="3" height="68"/>
<rect x="818" y="764" width="3" height="57"/>
<rect x="826" y="764" width="3" height="48"/>
<rect x="834" y="764" width="3" height="41"/>
<rect x="842" y="764" width="3" height="35"/>
<rect x="850" y="764" width="3" height="29"/>
<rect x="858" y="764" width="3" height="27"/>
<rect x="866" y="764" width="3" height="23"/>
<rect x="874" y="764" width="3" height="20"/>
<rect x="882" y="764" width="3" height="23"/>
<rect x="890" y="764" width="3" height="26"/>
<rect x="898" y="764" width="3" height="27"/>
<rect x="906" y="764" width="3" height="29"/>
<rect x="914" y="764" width="3" height="33"/>
<rect x="922" y="764" width="3" height="34"/>
<rect x="930" y="764" width="3" height="48"/>
<rect x="938" y="764" width="3" height="59"/>
<rect x="946" y="764" width="3" height="70"/>
<rect x="954" y="764" width="3" height="81"/>
<rect x="962" y="764" width="3" height="89"/>
<rect x="970" y="764" width="3" height="98"/>
<rect x="978" y="764" width="3" height="98"/>
<rect x="986" y="764" width="3" height="94"/>
<rect x="994" y="764" width="3" height="94"/>
<rect x="1002" y="764" width="3" height="92"/>
<rect x="1010" y="764" width="3" height="66"/>
<rect x="1018" y="764" width="3" height="53"/>
<rect x="1026" y="764" width="3" height="43"/>
<rect x="1034" y="764" width="3" height="33"/>
<rect x="1042" y="764" width="3" height="26"/>
<rect x="1050" y="764" width="3" height="19"/>
<rect x="1058" y="764" width="3" height="12"/>
<rect x="1066" y="764" width="3" height="10"/>
<rect x="1074" y="764" width="3" height="21"/>
<rect x="1082" y="764" width="3" height="26"/>
<rect x="1090" y="764" width="3" height="29"/>
<rect x="1098" y="764" width="3" height="23"/>
<rect x="1106" y="764" width="3" height="17"/>
<rect x="1114" y="764" width="3" height="10"/>
<rect x="1122" y="764" width="3" height="4"/>
<rect x="1130" y="764" width="3" height="1"/>
<rect x="1138" y="754" width="3" height="10"/>
<rect x="1146" y="750" width="3" height="14"/>
<rect x="1154" y="746" width="3" height="18"/>
<rect x="1162" y="730" width="3" height="34"/>
<rect x="1170" y="719" width="3" height="45"/>
<rect x="1178" y="713" width="3" height="51"/>
<rect x="1186" y="708" width="3" height="56"/>
<rect x="1194" y="703" width="3" height="61"/>
<rect x="1202" y="697" width="3" height="67"/>
<rect x="1210" y="695" width="3" height="69"/>
<rect x="1218" y="695" width="3" height="69"/>
<rect x="1226" y="690" width="3" height="74"/>
<rect x="1234" y="685" width="3" height="79"/>
<rect x="1242" y="679" width="3" height="85"/>
<rect x="1250" y="677" width="3" height="87"/>
<rect x="1258" y="680" width="3" height="84"/>
<rect x="1266" y="682" width="3" height="82"/>
<rect x="1274" y="686" width="3" height="78"/>
<rect x="1282" y="694" width="3" height="70"/>
<rect x="1290" y="702" width="3" height="62"/>
<rect x="1298" y="706" width="3" height="58"/>
<rect x="1306" y="716" width="3" height="48"/>
<rect x="1314" y="723" width="3" height="41"/>
<rect x="1322" y="725" width="3" height="39"/>
<rect x="1330" y="725" width="3" height="39"/>
<rect x="1338" y="738" width="3" height="26"/>
<rect x="1346" y="751" width="3" height="13"/>
<rect x="1354" y="763" width="3" height="1"/>
<rect x="1362" y="764" width="3" height="8"/>
<rect x="1370" y="764" width="3" height="18"/>
<rect x="1378" y="764" width="3" height="23"/>
<rect x="1386" y="764" width="3" height="29"/>
<rect x="1394" y="764" width="3" height="30"/>
<rect x="1402" y="764" width="3" height="32"/>
<rect x="1410" y="764" width="3" height="34"/>
<rect x="1418" y="764" width="3" height="34"/>
<rect x="1426" y="764" width="3" height="35"/>
<rect x="1434" y="764" width="3" height="38"/>
<rect x="1442" y="764" width="3" height="39"/>
<rect x="1450" y="764" width="3" height="40"/>
<rect x="1458" y="764" width="3" height="44"/>
<rect x="1466" y="764" width="3" height="54"/>
<rect x="1474" y="764" width="3" height="57"/>
<rect x="1482" y="764" width="3" height="62"/>
<rect x="1490" y="764" width="3" height="53"/>
<rect x="1498" y="764" width="3" height="46"/>
<rect x="1506" y="764" width="3" height="37"/>
<rect x="1514" y="764" width="3" height="25"/>
<rect x="1522" y="764" width="3" height="13"/>
<rect x="1530" y="764" width="3" height="10"/>
<rect x="1538" y="763" width="3" height="1"/>
<rect x="1546" y="755" width="3" height="9"/>
<rect x="1554" y="759" width="3" height="5"/>
<rect x="1562" y="760" width="3" height="4"/>
<rect x="1570" y="760" width="3" height="4"/>
<rect x="1578" y="762" width="3" height="2"/>
<rect x="1586" y="764" width="3" height="1"/>
<rect x="1594" y="764" width="3" height="2"/>
<rect x="1602" y="764" width="3" height="4"/>
<rect x="1610" y="764" width="3" height="4"/>
<rect x="1618" y="764" width="3" height="3"/>
<rect x="1626" y="764" width="3" height="1"/>
<rect x="1634" y="763" width="3" height="1"/>
<rect x="1642" y="764" width="3" height="1"/>
<rect x="1650" y="764" width="3" height="3"/>
<rect x="1658" y="764" width="3" height="5"/>
<rect x="1666" y="764" width="3" height="1"/>
<rect x="1674" y="758" width="3" height="6"/>
<rect x="1682" y="757" width="3" height="7"/>
<rect x="1690" y="750" width="3" height="14"/>
<rect x="1698" y="739" width="3" height="25"/>
<rect x="1706" y="732" width="3" height="32"/>
<rect x="1714" y="722" width="3" height="42"/>
<rect x="1722" y="714" width="3" height="50"/>
<rect x="1730" y="711" width="3" height="53"/>
<rect x="1738" y="715" width="3" height="49"/>
<rect x="1746" y="721" width="3" height="43"/>
<rect x="1754" y="725" width="3" height="39"/>
<rect x="1762" y="719" width="3" height="45"/>
<rect x="1770" y="716" width="3" height="48"/>
<rect x="1778" y="715" width="3" height="49"/>
<rect x="1786" y="715" width="3" height="49"/>
<rect x="1794" y="715" width="3" height="49"/>
<rect x="1802" y="715" width="3" height="49"/>
<rect x="1810" y="714" width="3" height="50"/>
<rect x="1818" y="712" width="3" height="52"/>
<rect x="1826" y="711" width="3" height="53"/>
<rect x="1834" y="715" width="3" height="49"/>
<rect x="1842" y="720" width="3" height="44"/>
<rect x="1850" y="725" width="3" height="39"/>
</g>
<g clip-path="url(#cs)"><path d="M3.00,844.00 C6.17,841.67 15.17,834.75 22.00,830.00 C28.83,825.25 36.50,820.42 44.00,815.50 C51.50,810.58 59.50,805.25 67.00,800.50 C74.50,795.75 81.67,791.25 89.00,787.00 C96.33,782.75 103.67,778.50 111.00,775.00 C118.33,771.50 125.67,768.27 133.00,766.00 C140.33,763.73 147.92,762.17 155.00,761.40 C162.08,760.63 170.75,761.25 175.50,761.40 C180.25,761.55 180.83,761.85 183.50,762.30 C186.17,762.75 188.68,762.98 191.50,764.10 C194.32,765.22 197.43,767.45 200.40,769.00 C203.37,770.55 206.33,771.55 209.30,773.40 C212.27,775.25 215.25,777.88 218.20,780.10 C221.15,782.32 224.03,784.78 227.00,786.70 C229.97,788.62 233.03,790.12 236.00,791.60 C238.97,793.08 241.85,794.20 244.80,795.60 C247.75,797.00 250.73,798.73 253.70,800.00 C256.67,801.27 259.65,802.33 262.60,803.20 C265.55,804.07 267.85,804.83 271.40,805.20 C274.95,805.57 280.20,805.73 283.90,805.40 C287.60,805.07 290.50,803.82 293.60,803.20 C296.70,802.58 298.78,802.40 302.50,801.70 C306.22,801.00 310.98,800.05 315.90,799.00 C320.82,797.95 327.55,796.93 332.00,795.40 C336.45,793.87 337.87,791.98 342.60,789.80 C347.33,787.62 354.47,785.00 360.40,782.30 C366.33,779.60 372.28,776.12 378.20,773.60 C384.12,771.08 391.47,768.60 395.90,767.20 C400.33,765.80 401.83,765.67 404.80,765.20 C407.77,764.73 410.73,764.33 413.70,764.40 C416.67,764.47 419.63,764.98 422.60,765.60 C425.57,766.22 428.55,767.23 431.50,768.10 C434.45,768.97 437.35,769.88 440.30,770.80 C443.25,771.72 446.23,772.20 449.20,773.60 C452.17,775.00 455.13,777.75 458.10,779.20 C461.07,780.65 464.03,781.27 467.00,782.30 C469.97,783.33 472.92,784.53 475.90,785.40 C478.88,786.27 481.92,786.98 484.90,787.50 C487.88,788.02 490.85,788.18 493.80,788.50 C496.75,788.82 499.65,789.30 502.60,789.40 C505.55,789.50 508.53,789.32 511.50,789.10 C514.47,788.88 517.43,788.52 520.40,788.10 C523.37,787.68 526.33,787.20 529.30,786.60 C532.27,786.00 535.25,785.22 538.20,784.50 C541.15,783.78 544.05,783.27 547.00,782.30 C549.95,781.33 552.93,780.03 555.90,778.70 C558.87,777.37 561.83,775.70 564.80,774.30 C567.77,772.90 570.73,771.42 573.70,770.30 C576.67,769.18 579.63,768.05 582.60,767.60 C585.57,767.15 589.28,767.48 591.50,767.60 C593.72,767.72 594.02,767.50 595.90,768.30 C597.78,769.10 600.28,770.32 602.80,772.40 C605.32,774.48 608.42,777.84 611.00,780.80 C613.58,783.76 615.72,786.22 618.30,790.15 C620.88,794.08 623.84,799.75 626.50,804.40 C629.16,809.05 631.83,813.58 634.25,818.05 C636.67,822.52 638.64,826.89 641.00,831.20 C643.36,835.51 645.90,839.78 648.40,843.90 C650.90,848.02 653.50,852.15 656.00,855.90 C658.50,859.65 660.90,863.40 663.40,866.40 C665.90,869.40 668.50,871.90 671.00,873.90 C673.50,875.90 675.92,877.28 678.40,878.40 C680.88,879.52 683.40,880.17 685.90,880.60 C688.40,881.03 690.90,881.05 693.40,881.00 C695.90,880.95 697.15,880.93 700.90,880.30 C704.65,879.67 710.92,878.32 715.90,877.20 C720.88,876.08 725.82,874.73 730.80,873.60 C735.78,872.47 741.60,871.15 745.80,870.40 C750.00,869.65 751.30,869.32 756.00,869.10 C760.70,868.88 768.63,869.25 774.00,869.10 C779.37,868.95 783.70,869.03 788.20,868.20 C792.70,867.37 797.13,865.60 801.00,864.10 C804.87,862.60 807.67,861.57 811.40,859.20 C815.13,856.83 819.90,852.75 823.40,849.90 C826.90,847.05 829.65,844.72 832.40,842.10 C835.15,839.48 837.15,836.90 839.90,834.20 C842.65,831.50 845.40,829.40 848.90,825.90 C852.40,822.40 856.90,816.95 860.90,813.20 C864.90,809.45 869.17,806.02 872.90,803.40 C876.63,800.78 880.32,799.12 883.30,797.50 C886.28,795.88 888.30,794.70 890.80,793.70 C893.30,792.70 894.10,792.25 898.30,791.50 C902.50,790.75 911.02,789.20 916.00,789.20 C920.98,789.20 924.13,790.27 928.20,791.50 C932.27,792.73 936.33,794.12 940.40,796.60 C944.47,799.08 948.53,803.15 952.60,806.40 C956.67,809.65 960.73,812.23 964.80,816.10 C968.87,819.97 972.93,825.63 977.00,829.60 C981.07,833.57 985.13,836.70 989.20,839.90 C993.27,843.10 997.73,847.02 1001.40,848.80 C1005.07,850.58 1008.15,850.65 1011.20,850.60 C1014.25,850.55 1016.25,850.18 1019.70,848.50 C1023.15,846.82 1027.83,843.75 1031.90,840.50 C1035.97,837.25 1040.03,833.07 1044.10,829.00 C1048.17,824.93 1052.23,820.58 1056.30,816.10 C1060.37,811.62 1065.22,805.55 1068.50,802.10 C1071.78,798.65 1072.83,797.70 1076.00,795.40 C1079.17,793.10 1083.42,790.03 1087.50,788.30 C1091.58,786.57 1095.68,786.20 1100.50,785.00 C1105.32,783.80 1111.35,782.03 1116.40,781.10 C1121.45,780.17 1125.98,780.65 1130.80,779.40 C1135.62,778.15 1141.45,775.28 1145.30,773.60 C1149.15,771.92 1151.02,771.18 1153.90,769.30 C1156.78,767.42 1158.75,765.98 1162.60,762.30 C1166.45,758.62 1172.20,751.77 1177.00,747.20 C1181.80,742.63 1186.58,739.07 1191.40,734.90 C1196.22,730.73 1201.08,726.05 1205.90,722.20 C1210.72,718.35 1215.28,715.33 1220.30,711.80 C1225.32,708.27 1230.98,704.23 1236.00,701.00 C1241.02,697.77 1245.58,694.68 1250.40,692.40 C1255.22,690.12 1260.57,688.52 1264.90,687.30 C1269.23,686.08 1272.80,685.47 1276.40,685.10 C1280.00,684.73 1282.42,684.48 1286.50,685.10 C1290.58,685.72 1296.08,686.98 1300.90,688.80 C1305.72,690.62 1310.58,693.00 1315.40,696.00 C1320.22,699.00 1325.00,703.32 1329.80,706.80 C1334.60,710.28 1339.40,712.88 1344.20,716.90 C1349.00,720.92 1353.78,726.33 1358.60,730.90 C1363.42,735.47 1368.28,739.67 1373.10,744.30 C1377.92,748.93 1383.68,754.78 1387.50,758.70 C1391.32,762.62 1393.47,765.08 1396.00,767.80 C1398.53,770.52 1399.93,772.52 1402.70,775.00 C1405.47,777.48 1409.10,780.40 1412.60,782.70 C1416.10,785.00 1420.00,787.03 1423.70,788.80 C1427.40,790.57 1431.08,792.00 1434.80,793.30 C1438.52,794.60 1442.30,795.77 1446.00,796.60 C1449.70,797.43 1453.32,797.33 1457.00,798.30 C1460.68,799.27 1464.40,801.17 1468.10,802.40 C1471.80,803.63 1475.50,804.42 1479.20,805.70 C1482.90,806.98 1486.60,809.12 1490.30,810.10 C1494.00,811.08 1497.70,811.60 1501.40,811.60 C1505.10,811.60 1508.80,810.93 1512.50,810.10 C1516.20,809.27 1519.90,808.02 1523.60,806.60 C1527.30,805.18 1531.00,804.00 1534.70,801.60 C1538.40,799.20 1542.25,795.53 1545.80,792.20 C1549.35,788.87 1552.63,784.57 1556.00,781.60 C1559.37,778.63 1562.67,776.85 1566.00,774.40 C1569.33,771.95 1572.67,768.68 1576.00,766.90 C1579.33,765.12 1582.67,764.45 1586.00,763.70 C1589.33,762.95 1593.00,762.78 1596.00,762.40 C1599.00,762.02 1601.33,761.40 1604.00,761.40 C1606.67,761.40 1609.17,762.07 1612.00,762.40 C1614.83,762.73 1618.67,763.07 1621.00,763.40 C1623.33,763.73 1621.83,764.23 1626.00,764.40 C1630.17,764.57 1641.83,764.23 1646.00,764.40 C1650.17,764.57 1646.83,765.28 1651.00,765.40 C1655.17,765.52 1666.00,765.35 1671.00,765.10 C1676.00,764.85 1677.67,764.35 1681.00,763.90 C1684.33,763.45 1688.17,763.07 1691.00,762.40 C1693.83,761.73 1695.50,761.07 1698.00,759.90 C1700.50,758.73 1703.00,756.87 1706.00,755.40 C1709.00,753.93 1712.67,753.10 1716.00,751.10 C1719.33,749.10 1722.67,745.92 1726.00,743.40 C1729.33,740.88 1733.50,737.90 1736.00,736.00 C1738.50,734.10 1738.50,733.42 1741.00,732.00 C1743.50,730.58 1747.67,729.00 1751.00,727.50 C1754.33,726.00 1757.67,724.33 1761.00,723.00 C1764.33,721.67 1768.17,720.42 1771.00,719.50 C1773.83,718.58 1770.83,717.88 1778.00,717.50 C1785.17,717.12 1806.33,717.53 1814.00,717.20 C1821.67,716.87 1821.00,715.98 1824.00,715.50 C1827.00,715.02 1829.33,714.38 1832.00,714.30 C1834.67,714.22 1837.33,714.80 1840.00,715.00 C1842.67,715.20 1846.17,715.25 1848.00,715.50 C1849.83,715.75 1850.50,716.33 1851.00,716.50" fill="none" stroke="#FF0000" stroke-width="1.15" stroke-linejoin="round"/></g>
<polygon points="968.30,650.65 1187.00,597.72 1436.00,537.19 1836.00,439.94 1876.00,430.30 1892.60,426.30 1905.00,424.30 1905.10,421.10 1914.60,424.30 1909.30,427.70 1888.00,432.00 1836.00,444.64 1436.00,540.09 1187.00,599.52 968.30,651.95" fill="#000"/>
<defs><linearGradient id="g1" x1="0" x2="1" y1="0" y2="0"><stop offset="0" stop-color="#000"/><stop offset="0.5" stop-color="#2e2e2e"/><stop offset="1" stop-color="#000"/></linearGradient><linearGradient id="g2" x1="0" x2="1" y1="0" y2="0"><stop offset="0" stop-color="#000"/><stop offset="0.15" stop-color="#222"/><stop offset="0.3" stop-color="#555"/><stop offset="0.5" stop-color="#7a7a7a"/><stop offset="0.7" stop-color="#666"/><stop offset="0.85" stop-color="#333"/><stop offset="1" stop-color="#000"/></linearGradient></defs>
<polygon points="1205.0,252.85 1211.9,252.75 1218.8,252.65 1225.6,252.57 1232.5,252.49 1239.4,252.42 1246.2,252.36 1253.1,252.31 1260.0,252.27 1266.9,252.24 1273.8,252.22 1280.6,252.20 1287.5,252.20 1294.4,252.20 1301.2,252.22 1308.1,252.24 1315.0,252.27 1321.9,252.31 1328.8,252.36 1335.6,252.42 1342.5,252.49 1349.4,252.57 1356.2,252.65 1363.1,252.75 1370.0,252.85 1370.0,254.15 1363.1,254.25 1356.2,254.35 1349.4,254.43 1342.5,254.51 1335.6,254.58 1328.8,254.64 1321.9,254.69 1315.0,254.73 1308.1,254.76 1301.2,254.78 1294.4,254.80 1287.5,254.80 1280.6,254.80 1273.8,254.78 1266.9,254.76 1260.0,254.73 1253.1,254.69 1246.2,254.64 1239.4,254.58 1232.5,254.51 1225.6,254.43 1218.8,254.35 1211.9,254.25 1205.0,254.15" fill="url(#g1)"/>
<polygon points="1687.0,260.00 1695.1,259.92 1703.2,259.85 1711.2,259.78 1719.3,259.72 1727.4,259.67 1735.5,259.62 1743.6,259.59 1751.7,259.56 1759.8,259.53 1767.8,259.51 1775.9,259.50 1784.0,259.50 1792.1,259.50 1800.2,259.51 1808.2,259.53 1816.3,259.56 1824.4,259.59 1832.5,259.62 1840.6,259.67 1848.7,259.72 1856.8,259.78 1864.8,259.85 1872.9,259.92 1881.0,260.00 1881.0,262.00 1872.9,262.08 1864.8,262.15 1856.8,262.22 1848.7,262.28 1840.6,262.33 1832.5,262.38 1824.4,262.41 1816.3,262.44 1808.2,262.47 1800.2,262.49 1792.1,262.50 1784.0,262.50 1775.9,262.50 1767.8,262.49 1759.8,262.47 1751.7,262.44 1743.6,262.41 1735.5,262.38 1727.4,262.33 1719.3,262.28 1711.2,262.22 1703.2,262.15 1695.1,262.08 1687.0,262.00" fill="url(#g2)"/>
<g shape-rendering="crispEdges" fill="#000">
<rect x="2" y="3" width="1872" height="1"/>
<rect x="2" y="663" width="1872" height="1"/>
<rect x="2" y="3" width="1" height="661"/>
<rect x="1873" y="3" width="1" height="661"/>
<rect x="2" y="665" width="1872" height="1"/>
<rect x="2" y="897" width="1872" height="1"/>
<rect x="2" y="665" width="1" height="233"/>
<rect x="1873" y="665" width="1" height="233"/>
<rect x="1874" y="33" width="2" height="1"/>
<rect x="1874" y="66" width="2" height="1"/>
<rect x="1874" y="99" width="2" height="1"/>
<rect x="1874" y="132" width="2" height="1"/>
<rect x="1874" y="165" width="2" height="1"/>
<rect x="1874" y="198" width="2" height="1"/>
<rect x="1874" y="231" width="2" height="1"/>
<rect x="1874" y="264" width="2" height="1"/>
<rect x="1874" y="297" width="2" height="1"/>
<rect x="1874" y="330" width="2" height="1"/>
<rect x="1874" y="363" width="2" height="1"/>
<rect x="1874" y="396" width="2" height="1"/>
<rect x="1874" y="429" width="2" height="1"/>
<rect x="1874" y="462" width="2" height="1"/>
<rect x="1874" y="495" width="2" height="1"/>
<rect x="1874" y="528" width="2" height="1"/>
<rect x="1874" y="561" width="2" height="1"/>
<rect x="1874" y="594" width="2" height="1"/>
<rect x="1874" y="627" width="2" height="1"/>
<rect x="1874" y="660" width="2" height="1"/>
<rect x="1874" y="667" width="2" height="1"/>
<rect x="1874" y="764" width="2" height="1"/>
<rect x="1874" y="896" width="2" height="1"/>
<rect x="3" y="898" width="1" height="3"/>
<rect x="67" y="898" width="1" height="3"/>
<rect x="131" y="898" width="1" height="3"/>
<rect x="195" y="898" width="1" height="3"/>
<rect x="259" y="898" width="1" height="3"/>
<rect x="323" y="898" width="1" height="3"/>
<rect x="387" y="898" width="1" height="3"/>
<rect x="451" y="898" width="1" height="3"/>
<rect x="515" y="898" width="1" height="3"/>
<rect x="579" y="898" width="1" height="3"/>
<rect x="643" y="898" width="1" height="3"/>
<rect x="707" y="898" width="1" height="3"/>
<rect x="771" y="898" width="1" height="3"/>
<rect x="835" y="898" width="1" height="3"/>
<rect x="899" y="898" width="1" height="3"/>
<rect x="963" y="898" width="1" height="3"/>
<rect x="1027" y="898" width="1" height="3"/>
<rect x="1091" y="898" width="1" height="3"/>
<rect x="1155" y="898" width="1" height="3"/>
<rect x="1219" y="898" width="1" height="3"/>
<rect x="1283" y="898" width="1" height="3"/>
<rect x="1347" y="898" width="1" height="3"/>
<rect x="1411" y="898" width="1" height="3"/>
<rect x="1475" y="898" width="1" height="3"/>
<rect x="1539" y="898" width="1" height="3"/>
<rect x="1603" y="898" width="1" height="3"/>
<rect x="1667" y="898" width="1" height="3"/>
<rect x="1731" y="898" width="1" height="3"/>
<rect x="1795" y="898" width="1" height="3"/>
</g>
<g font-family="Liberation Sans, sans-serif" font-size="9.6" letter-spacing="-0.3" stroke-width="0.12" fill="#000" stroke="#000">
<text x="1879.3" y="37">1248.55</text>
<text x="1879.3" y="70">1246.55</text>
<text x="1879.3" y="103">1244.60</text>
<text x="1879.3" y="136">1242.60</text>
<text x="1879.3" y="169">1240.60</text>
<text x="1879.3" y="202">1238.60</text>
<text x="1879.3" y="235">1236.60</text>
<text x="1879.3" y="268">1234.60</text>
<text x="1879.3" y="301">1232.60</text>
<text x="1879.3" y="334">1230.60</text>
<text x="1879.3" y="367">1228.60</text>
<text x="1879.3" y="400">1226.60</text>
<text x="1879.3" y="433">1224.60</text>
<text x="1879.3" y="466">1222.60</text>
<text x="1879.3" y="499">1220.65</text>
<text x="1879.3" y="532">1218.65</text>
<text x="1879.3" y="565">1216.65</text>
<text x="1879.3" y="598">1214.65</text>
<text x="1879.3" y="631">1212.65</text>
<text x="1879.3" y="664">1210.65</text>
<text x="1877" y="676">3.118</text>
<text x="1877" y="768">0.00</text>
<text x="1876.6" y="894">-4.219</text>
</g>
<rect x="1875" y="322" width="41" height="11" fill="#000" shape-rendering="crispEdges"/>
<text x="1879.6" y="331" font-family="Liberation Sans, sans-serif" font-size="9.6" letter-spacing="-0.3" stroke-width="0.12" fill="#fff" stroke="#fff">1230.77</text>
<polygon points="968.30,650.65 1187.00,597.72 1436.00,537.19 1836.00,439.94 1876.00,430.30 1892.60,426.30 1905.00,424.30 1905.10,421.10 1914.60,424.30 1909.30,427.70 1888.00,432.00 1836.00,444.64 1436.00,540.09 1187.00,599.52 968.30,651.95" fill="#000"/>
<polygon points="1687.0,260.00 1695.1,259.92 1703.2,259.85 1711.2,259.78 1719.3,259.72 1727.4,259.67 1735.5,259.62 1743.6,259.59 1751.7,259.56 1759.8,259.53 1767.8,259.51 1775.9,259.50 1784.0,259.50 1792.1,259.50 1800.2,259.51 1808.2,259.53 1816.3,259.56 1824.4,259.59 1832.5,259.62 1840.6,259.67 1848.7,259.72 1856.8,259.78 1864.8,259.85 1872.9,259.92 1881.0,260.00 1881.0,262.00 1872.9,262.08 1864.8,262.15 1856.8,262.22 1848.7,262.28 1840.6,262.33 1832.5,262.38 1824.4,262.41 1816.3,262.44 1808.2,262.47 1800.2,262.49 1792.1,262.50 1784.0,262.50 1775.9,262.50 1767.8,262.49 1759.8,262.47 1751.7,262.44 1743.6,262.41 1735.5,262.38 1727.4,262.33 1719.3,262.28 1711.2,262.22 1703.2,262.15 1695.1,262.08 1687.0,262.00" fill="url(#g2)"/>
<polygon points="6,10 13,10 9.5,14" fill="#000"/>
<g font-family="Liberation Sans, sans-serif" font-size="9.6" letter-spacing="-0.3" stroke-width="0.12" fill="#000" stroke="#000">
<text x="18" y="15">GOLD,H1</text>
<text x="65.4" y="15">1231.15</text>
<text x="101.6" y="15">1231.15</text>
<text x="137.3" y="15">1230.30</text>
<text x="173.2" y="15">1230.77</text>
<text x="7" y="678" letter-spacing="-0.1" font-size="9.7">MACD(12,26,9) 1.247 1.547</text>
</g>
<rect x="1908" y="877.5" width="10" height="30" rx="2" fill="#5b5f6c"/>
<rect x="1912" y="884" width="4" height="1" fill="#3c404a" shape-rendering="crispEdges"/>
<rect x="1912" y="886" width="4" height="1" fill="#3c404a" shape-rendering="crispEdges"/>
<rect x="1912" y="888" width="4" height="1" fill="#3c404a" shape-rendering="crispEdges"/>
<rect x="1912" y="890" width="4" height="1" fill="#3c404a" shape-rendering="crispEdges"/>
<rect x="1912" y="892" width="4" height="1" fill="#3c404a" shape-rendering="crispEdges"/>
<rect x="1912" y="894" width="4" height="1" fill="#3c404a" shape-rendering="crispEdges"/>
<rect x="1912" y="896" width="4" height="1" fill="#3c404a" shape-rendering="crispEdges"/>
<rect x="1912" y="898" width="4" height="1" fill="#3c404a" shape-rendering="crispEdges"/>
<rect x="1912" y="900" width="4" height="1" fill="#3c404a" shape-rendering="crispEdges"/>
</svg></body></html>
